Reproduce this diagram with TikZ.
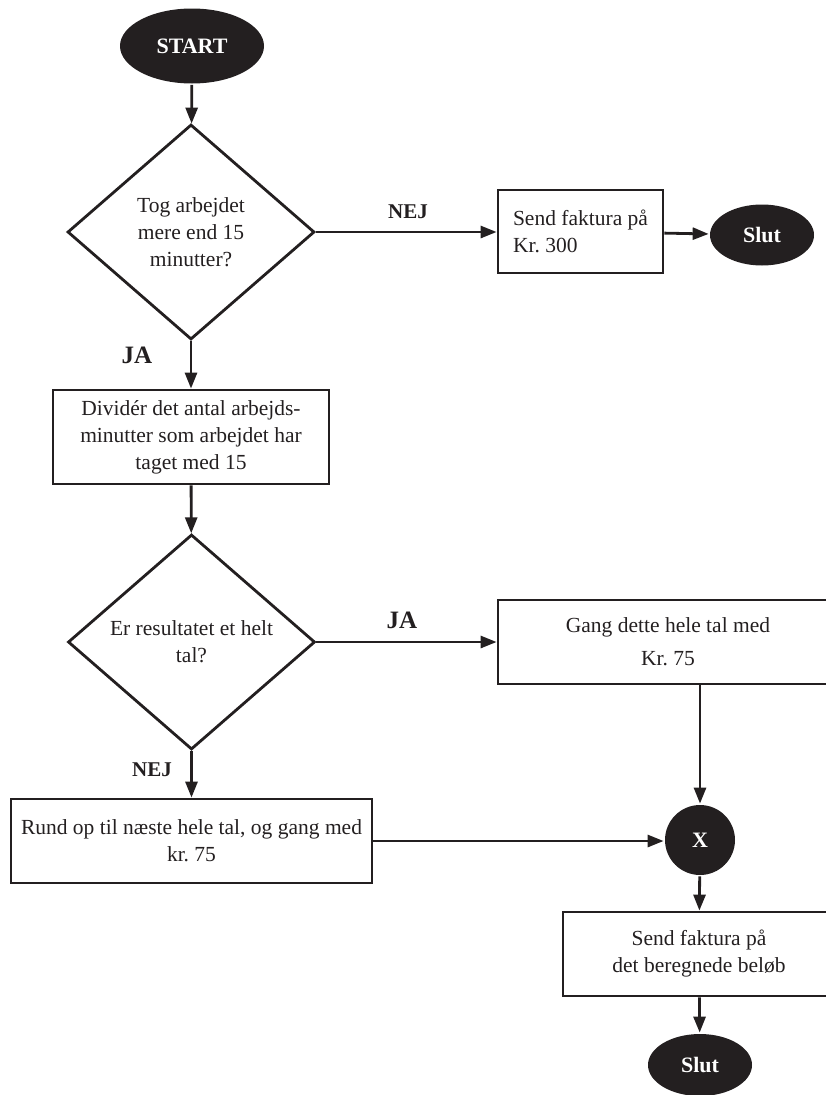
\documentclass[tikz,border=0pt]{standalone}
\usepackage{fontspec}
\setmainfont{Liberation Serif}
\usetikzlibrary{shapes.geometric,arrows.meta}
\definecolor{ink}{HTML}{231F20}
\frenchspacing

\begin{document}
\begin{tikzpicture}[x=1pt,y=-1pt,line width=2.8pt,draw=ink,text=ink]
   \tikzset{term/.style 2 args={ellipse,fill=ink,text=white,minimum width=#1,minimum height=#2,inner sep=0,font=\fontsize{22}{25}\selectfont\bfseries},
      box/.style 2 args={draw,rectangle,minimum width=#1,minimum height=#2,align=center,inner sep=0,font=\fontsize{21.5}{27}\selectfont},
      dec/.style={draw,diamond,minimum width=247pt,minimum height=215pt,inner sep=0,align=center,font=\fontsize{21.5}{27}\selectfont},
      lbl/.style={font=\fontsize{#1}{#1}\selectfont\bfseries},
      arr/.style={-{Triangle[length=16pt,width=12pt]}}};

\useasboundingbox (0,0) rectangle (825,1095);

\node[term={144pt}{75pt}] (1) at (192,46) {START};
\node[dec] (2) at (191,232) {Tog arbejdet\\mere end 15\\minutter?};
\node[lbl=21] (3) at (408,212) {NEJ};
\node[box={165pt}{83pt},align=left] (4) at (580.5,231.5) {Send faktura på\\Kr. 300};
\node[term={104pt}{61pt}] (5) at (762,235) {Slut};
\node[lbl=25] (6) at (137,355) {JA};
\node[box={276pt}{94pt}] (7) at (191,437) {Dividér det antal arbejds-\\minutter som arbejdet har\\taget med 15};
\node[dec] (8) at (191.5,642) {Er resultatet et helt\\tal?};
\node[lbl=25] (9) at (402,620) {JA};
\node[box={340pt}{84pt}] (10) at (668,642) {Gang dette hele tal med\\[6pt]Kr. 75};
\node[lbl=21] (11) at (152,770) {NEJ};
\node[box={361pt}{84pt}] (12) at (191.5,841) {Rund op til næste hele tal, og gang med\\kr. 75};
\node[term={70pt}{70pt}] (13) at (700,840) {X};
\node[box={272pt}{84pt}] (14) at (699,954) {Send faktura på\\det beregnede beløb};
\node[term={104pt}{62pt}] (15) at (700,1065) {Slut};

% connectors
\draw[arr] (1) -- (2);
\draw[arr] (2.east) -- (2.east -| 4.west);
\draw[arr] (4) -- (5);
\draw[arr] (2.south) -- (7.north);
\draw[arr] (7) -- (8);
\draw[arr] (8.east) -- (8.east -| 10.west);
\draw[arr] (10.south -| 13) -- (13);
\draw[arr] (8.south) -- (12.north);
\draw[arr] (12.east) -- (12.east -| 13.west);
\draw[arr] (13) -- (14);
\draw[arr] (14) -- (15);

\end{tikzpicture}
\end{document}
